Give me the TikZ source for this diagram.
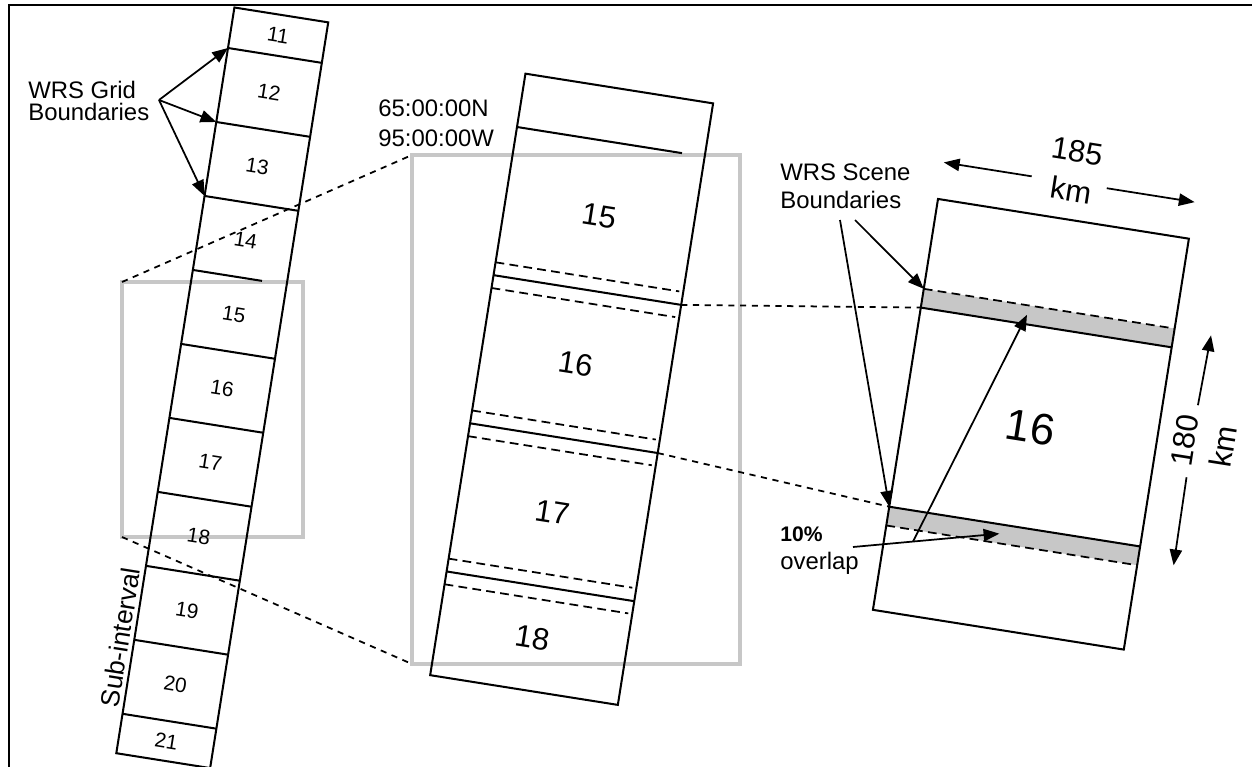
\documentclass[tikz,border=0pt]{standalone}
\usepackage{fontspec}
\setmainfont{Liberation Sans}
\usetikzlibrary{arrows.meta,calc}

\begin{document}
\begin{tikzpicture}[x=0.02cm,y=-0.02cm,
  edge/.style={line width=1.15pt},
  ovl/.style={line width=1pt,dash pattern=on 5pt off 3pt},
  link/.style={line width=1pt,dash pattern=on 3.5pt off 3.2pt},
  zoombox/.style={draw=black!22,line width=2.1pt},
  band/.style={fill=black!22},
  arr/.style={line width=1pt,-{Triangle[length=9pt,width=7pt]}},
  lbl/.style={inner sep=0pt,align=left,font=\fontsize{13.6}{15.5}\selectfont},
  cellnum/.style={inner sep=0pt,rotate=-9,font=\fontsize{11.8}{14}\selectfont},
  midnum/.style={inner sep=0pt,rotate=-9,font=\fontsize{17.6}{20}\selectfont},
  dimlbl/.style={inner sep=0pt,align=center,font=\fontsize{17.6}{22.5}\selectfont}]

  \useasboundingbox (0,0) rectangle (1252,767);
  \draw[line width=1.2pt] (9,767) -- (9,5) -- (1252,5);

  % zoom windows
  \coordinate (zsA) at (122,282);
  \coordinate (zsB) at (303,537);
  \coordinate (zbA) at (412,155);
  \coordinate (zbB) at (740,664);
  \draw[zoombox] (zsA) rectangle (zsB);
  \draw[zoombox] (zbA) rectangle (zbB);

  % small strip, rows 11 to 21
  \begin{scope}[shift={(228,48)},rotate=-9]
    \draw[edge] (0,-41) rectangle (95,714);
    \foreach \k in {0,1,2,4,5,6,7,8,9}
      \draw[edge] (0,\k*74.9) -- (95,\k*74.9);
    \draw[edge] (0,224.7) -- (70,224.7);
    \foreach \k in {0,1,2}
      \coordinate (g\k) at (0,\k*74.9);
    \foreach \n/\pos in {11/-20.5,12/37.5,13/112.4,14/187.3,15/262.2,16/337.1,
                         17/412,18/486.9,19/561.8,20/636.7,21/694}
      \node[cellnum] (c\n) at (47.5,\pos) {\n};
    \node[lbl,rotate=81,font=\fontsize{15}{17}\selectfont] (subint) at (-14,599) {Sub-interval};
  \end{scope}

  % enlarged strip, rows 14 to 18
  \begin{scope}[shift={(517,127)},rotate=-9]
    \draw[edge] (0,-54) rectangle (190,555);
    \draw[edge] (0,0) -- (167,0);
    \foreach \pos in {150,300,450} {
      \draw[edge] (0,\pos) -- (190,\pos);
      \draw[ovl] (0,\pos-13) -- (186,\pos-13);
      \draw[ovl] (0,\pos+13) -- (186,\pos+13);
    }
    \coordinate (m1) at (190,150);
    \coordinate (m2) at (190,300);
    \foreach \n/\pos in {15/75,16/225,17/375,18/502}
      \node[midnum] (e\n) at (95,\pos) {\n};
  \end{scope}

  % single scene 16
  \begin{scope}[shift={(920.8,307.6)},rotate=-9]
    \fill[band] (0,-19) rectangle (254,0);
    \fill[band] (0,201.6) rectangle (254,220.6);
    \draw[edge] (0,-110) rectangle (254,306);
    \draw[edge] (0,0) -- (254,0);
    \draw[edge] (0,201.6) -- (254,201.6);
    \draw[ovl] (0,-19) -- (254,-19);
    \draw[ovl] (0,220.6) -- (254,220.6);
    \coordinate (r1) at (0,0);
    \coordinate (r2) at (0,201.6);
    \coordinate (rtop) at (0,-19);
    \coordinate (ovU) at (106,-9.5);
    \coordinate (ovL) at (113,211);
    \coordinate (wL) at (0,-147);   \coordinate (wLi) at (89,-147);
    \coordinate (wR) at (254,-147); \coordinate (wRi) at (165,-147);
    \coordinate (hT) at (291,-18);  \coordinate (hTi) at (289,53);
    \coordinate (hB) at (290,215);  \coordinate (hBi) at (289,126);
    \node[inner sep=0pt,rotate=-9,font=\fontsize{25}{28}\selectfont] (s16) at (127,101) {16};
    \node[dimlbl,rotate=-9] (wlbl) at (130,-159) {185\\km};
    \node[dimlbl,rotate=81] (hlbl) at (301,90) {180\\km};
  \end{scope}

  % links between views
  \draw[link] (zsA) -- (zbA);
  \draw[link] (zsA |- zsB) -- (zbA |- zbB);
  \draw[link] (m1) -- (r1);
  \draw[link] (m2) -- (r2);

  % labels and pointers
  \node[lbl,anchor=west,font=\fontsize{13.6}{12.5}\selectfont] (gridlbl) at (28,101) {WRS Grid\\Boundaries};
  \coordinate (gridfrom) at (159,100);
  \foreach \k in {0,1,2}
    \draw[arr] (gridfrom) -- (g\k);

  \node[lbl,anchor=west,font=\fontsize{13.6}{17}\selectfont] (geo) at (378,123) {65:00:00N\\95:00:00W};

  \node[lbl,anchor=west,font=\fontsize{13.6}{16}\selectfont] (scenelbl) at (780,186) {WRS Scene\\Boundaries};
  \coordinate (scA) at (855,220);
  \coordinate (scB) at (840,220);
  \draw[arr] (scA) -- (rtop);
  \draw[arr] (scB) -- (r2);

  \node[lbl,anchor=west,font=\fontsize{13.6}{16}\selectfont] (ovlbl) at (780,551) {{\fontsize{12}{14}\selectfont\bfseries 10\%}\\overlap};
  \coordinate (ovfrom) at (853,547);
  \draw[arr] (ovfrom) -- (ovL);
  \draw[arr] ($(ovfrom)!0.41!(ovL)$) -- (ovU);

  \draw[arr] (wLi) -- (wL);
  \draw[arr] (wRi) -- (wR);
  \draw[arr] (hTi) -- (hT);
  \draw[arr] (hBi) -- (hB);
\end{tikzpicture}
\end{document}
